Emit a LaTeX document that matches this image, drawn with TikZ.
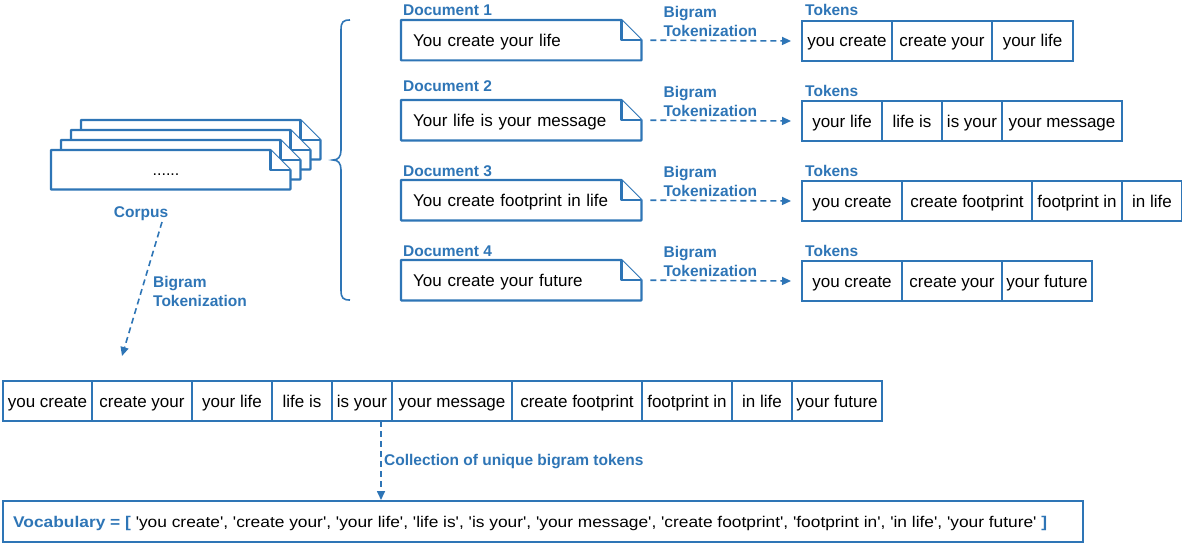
\documentclass[tikz,border=0pt]{standalone}
\usepackage{fontspec}
\setmainfont{Liberation Sans}
\newfontfamily\vfont{Liberation Sans}[Ligatures=TeXOff]
\usetikzlibrary{arrows.meta,calc}
\definecolor{myblue}{RGB}{46,117,182}
\newcommand\docoutline[1]{%
  \filldraw[docline] (#1.north west) -- ([xshift=-20pt]#1.north east) -- ([yshift=-20pt]#1.north east) -- (#1.south east) -- (#1.south west) -- cycle;
  \draw[docline] ([xshift=-20pt]#1.north east) |- ([yshift=-20pt]#1.north east);}
\begin{document}
\begin{tikzpicture}[x=1pt,y=-1pt,
 lbl/.style={font=\fontsize{15.5}{18}\selectfont\bfseries, text=myblue, inner sep=0pt, anchor=base west},
 tok/.style={draw=myblue, line width=2pt, minimum height=40pt, minimum width=#1, inner sep=0pt, text height=12.5pt, text depth=0.5pt, anchor=north west, font=\fontsize{17}{20}\selectfont},
 docnode/.style={minimum width=240pt, minimum height=40pt, text width=216pt, inner xsep=12pt, inner ysep=0pt, text height=12.5pt, text depth=0.5pt, align=left, anchor=north west, font=\fontsize{17}{20}\selectfont},
 cbox/.style={minimum width=239pt, minimum height=39pt, inner sep=0pt, anchor=north west},
 docline/.style={draw=myblue, fill=white, line width=2.2pt, line join=round},
 darr/.style={draw=myblue, line width=1.6pt, dash pattern=on 6pt off 4pt, -{Triangle[length=9pt,width=8pt]}},
]
\useasboundingbox (0,0) rectangle (1182,543);

% corpus stack
\node[cbox] (c4) at (81,120) {};
\node[cbox] (c3) at (71,130) {};
\node[cbox] (c2) at (61,140) {};
\node[cbox] (c1) at (51,150) {};
\docoutline{c4}\docoutline{c3}\docoutline{c2}\docoutline{c1}
\node[anchor=base, inner sep=0pt, font=\fontsize{16}{19}\selectfont] (dots) at (166,175) {......};
\node[lbl, anchor=base] (corpus) at (141,217) {Corpus};

% brace
\draw[myblue, line width=1.6pt] (350,20) .. controls (343,20) and (341,22) .. (341,30) -- (341,150) .. controls (341,157) and (338,160) .. (333,160) .. controls (338,160) and (341,163) .. (341,170) -- (341,290) .. controls (341,298) and (343,300) .. (350,300);

% documents
\node[docnode] (d1) at (401,20) {};
\node[docnode] (d2) at (401,100) {};
\node[docnode] (d3) at (401,180) {};
\node[docnode] (d4) at (401,260) {};
\docoutline{d1}\docoutline{d2}\docoutline{d3}\docoutline{d4}
\node[docnode] (d1t) at (401,20) {You create your life};
\node[docnode] (d2t) at (401,100) {Your life is your message};
\node[docnode] (d3t) at (401,180) {You create footprint in life};
\node[docnode] (d4t) at (401,260) {You create your future};

\node[lbl] (l1) at (403,16) {Document 1};
\node[lbl] (l2) at (403,91) {Document 2};
\node[lbl] (l3) at (403,176) {Document 3};
\node[lbl] (l4) at (403,256) {Document 4};

% token rows
\node[tok=90pt] (t11) at (801,20) {you create};
\node[tok=100pt] (t12) at (891,20) {create your};
\node[tok=81pt] (t13) at (991,20) {your life};

\node[tok=80pt] (t21) at (801,100) {your life};
\node[tok=60pt] (t22) at (881,100) {life is};
\node[tok=60pt] (t23) at (941,100) {is your};
\node[tok=120pt] (t24) at (1001,100) {your message};

\node[tok=100pt] (t31) at (801,180) {you create};
\node[tok=130pt] (t32) at (901,180) {create footprint};
\node[tok=90pt] (t33) at (1031,180) {footprint in};
\node[tok=60pt] (t34) at (1121,180) {in life};

\node[tok=100pt] (t41) at (801,260) {you create};
\node[tok=100pt] (t42) at (901,260) {create your};
\node[tok=90pt] (t43) at (1001,260) {your future};

\node[lbl] (k1) at (805,16) {Tokens};
\node[lbl] (k2) at (805,96) {Tokens};
\node[lbl] (k3) at (805,176) {Tokens};
\node[lbl] (k4) at (805,256) {Tokens};

% arrows docs -> tokens
\foreach \i in {1,2,3,4}{
  \draw[darr] ([xshift=9pt]d\i.east) -- ([xshift=-10pt]t\i1.west);
  \node[lbl, align=left] at ([xshift=22pt,yshift=23pt]d\i.east) {Bigram};
  \node[lbl, align=left] at ([xshift=22pt,yshift=4pt]d\i.east) {Tokenization};
}

% corpus arrow
\coordinate (cs) at (162,222);
\coordinate (ce) at (122,356);
\draw[darr] (cs) -- (ce);
\node[lbl] (cbig) at (153,287) {Bigram};
\node[lbl] (ctok) at (153,306) {Tokenization};

% bottom row
\node[tok=89pt] (b1) at (2,380) {you create};
\node[tok=100pt] (b2) at (91,380) {create your};
\node[tok=80pt] (b3) at (191,380) {your life};
\node[tok=60pt] (b4) at (271,380) {life is};
\node[tok=60pt] (b5) at (331,380) {is your};
\node[tok=120pt] (b6) at (391,380) {your message};
\node[tok=130pt] (b7) at (511,380) {create footprint};
\node[tok=90pt] (b8) at (641,380) {footprint in};
\node[tok=60pt] (b9) at (731,380) {in life};
\node[tok=90pt] (b10) at (791,380) {your future};

% vocabulary
\node[draw=myblue, line width=2pt, anchor=north west, minimum width=1080pt, minimum height=41pt, inner sep=0pt] (voc) at (2,500) {};
\node[anchor=base west, inner sep=0pt] (vtext) at (13,527) {\resizebox{1034pt}{\height}{\vfont\fontsize{15.5}{18}\selectfont\textcolor{myblue}{\bfseries Vocabulary = [} 'you create', 'create your', 'your life', 'life is', 'is your', 'your message', 'create footprint', 'footprint in', 'in life', 'your future' \textcolor{myblue}{\bfseries ]}}};

\coordinate (vs) at (381,421);
\draw[darr] (vs) -- (voc.north -| vs);
\node[lbl] (coll) at (384,465) {Collection of unique bigram tokens};
\end{tikzpicture}
\end{document}
